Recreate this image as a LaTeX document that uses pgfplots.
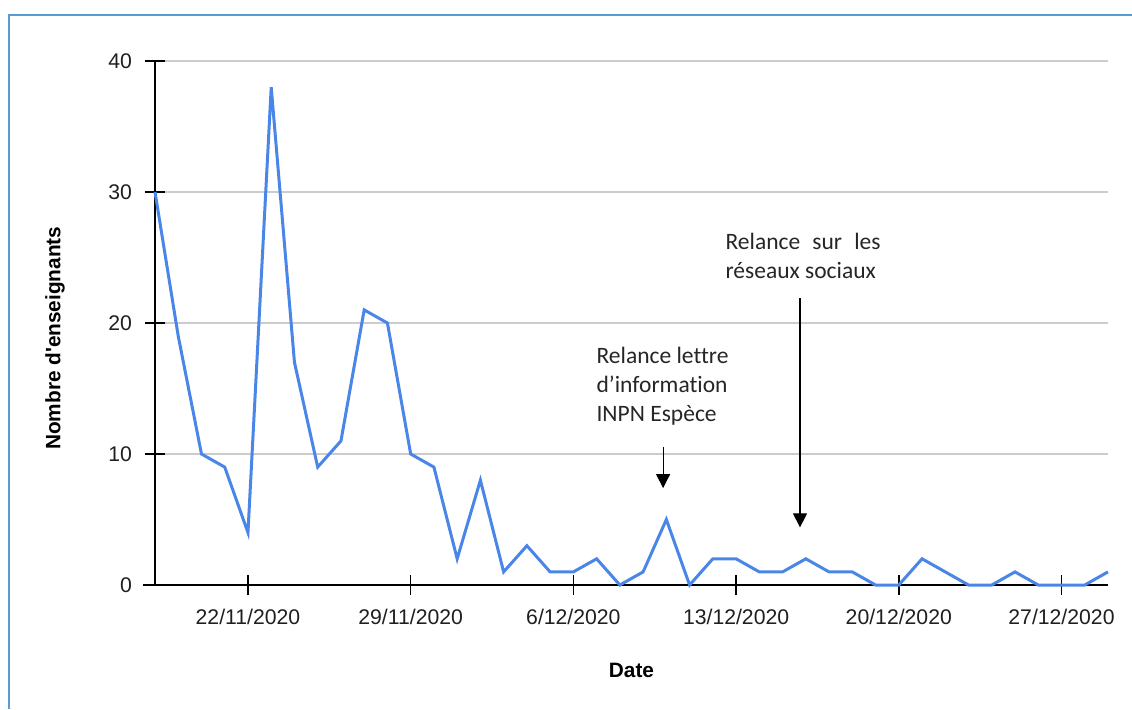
\documentclass[border=0pt]{standalone}
\usepackage{pgfplots}
\pgfplotsset{compat=1.18}
\usepackage{fontspec}
\setmainfont{Liberation Sans}
\newfontfamily\calibri[Ligatures={NoCommon,NoRare}]{Carlito}
\usetikzlibrary{arrows.meta}
\definecolor{lineblue}{HTML}{4A86E8}
\definecolor{frameblue}{HTML}{5B9BD5}
\definecolor{gridgray}{HTML}{CCCCCC}
\begin{document}
\begin{tikzpicture}
\useasboundingbox (-77.5pt,-62pt) rectangle (488.5pt,292.5pt);
\draw[frameblue, line width=1.2pt] (-73pt,-62pt) -- (-73pt,285pt) -- (488.5pt,285pt);
\begin{axis}[
  scale only axis, width=476.5pt, height=262pt,
  at={(0pt,0pt)}, anchor=south west,
  xmin=0, xmax=41, ymin=0, ymax=40,
  axis lines=left,
  axis line style={-, black, line width=0.8pt},
  x axis line style={shorten <=-6pt},
  xtick={4,11,18,25,32,39},
  xticklabels={22/11/2020,29/11/2020,6/12/2020,13/12/2020,20/12/2020,27/12/2020},
  ytick={0,10,20,30,40},
  tick align=center,
  major tick length=10pt,
  tick style={black, line width=0.8pt},
  ymajorgrids,
  grid style={gridgray, line width=0.75pt},
  ticklabel style={font=\fontsize{10.6}{12}\selectfont, text=black!88},
  xticklabel style={yshift=-3.5pt},
  yticklabel style={xshift=-3pt},
  /pgf/number format/assume math mode=true,
  xlabel={Date},
  ylabel={Nombre d\textquotesingle enseignants},
  label style={font=\fontsize{10.4}{12}\selectfont\bfseries},
  xlabel style={at={(axis description cs:0.5,0)}, anchor=center, yshift=-42.5pt},
  ylabel style={at={(axis description cs:-0.1049,0.471)}, anchor=center},
  clip=false,
]
\addplot[lineblue, line width=1.5pt, mark=none] coordinates {
(0,30) (1,19) (2,10) (3,9) (4,4) (5,38) (6,17) (7,9) (8,11) (9,21)
(10,20) (11,10) (12,9) (13,2) (14,8) (15,1) (16,3) (17,1) (18,1) (19,2)
(20,0) (21,1) (22,5) (23,0) (24,2) (25,2) (26,1) (27,1) (28,2) (29,1)
(30,1) (31,0) (32,0) (33,2) (34,1) (35,0) (36,0) (37,1) (38,0) (39,0)
(40,0) (41,1)
};
\draw[black, line width=0.6pt, -{Triangle[width=7pt,length=7pt]}] (axis cs:21.86,10.5) -- (axis cs:21.86,7.4);
\draw[black, line width=0.6pt, -{Triangle[width=7pt,length=7pt]}] (axis cs:27.75,21.9) -- (axis cs:27.75,4.4);
\node[anchor=west, align=left, inner sep=0pt, text=black!85, font=\calibri\fontsize{11.75}{14.5}\selectfont] at (axis cs:18.98,15.2) {Relance lettre\\d’information\\INPN Espèce};
\node[anchor=west, align=left, inner sep=0pt, text=black!85, font=\calibri\fontsize{11.75}{14.5}\selectfont] at (axis cs:24.53,25.1) {\makebox[77.5pt][s]{Relance sur les}\\réseaux sociaux};
\end{axis}
\end{tikzpicture}
\end{document}
